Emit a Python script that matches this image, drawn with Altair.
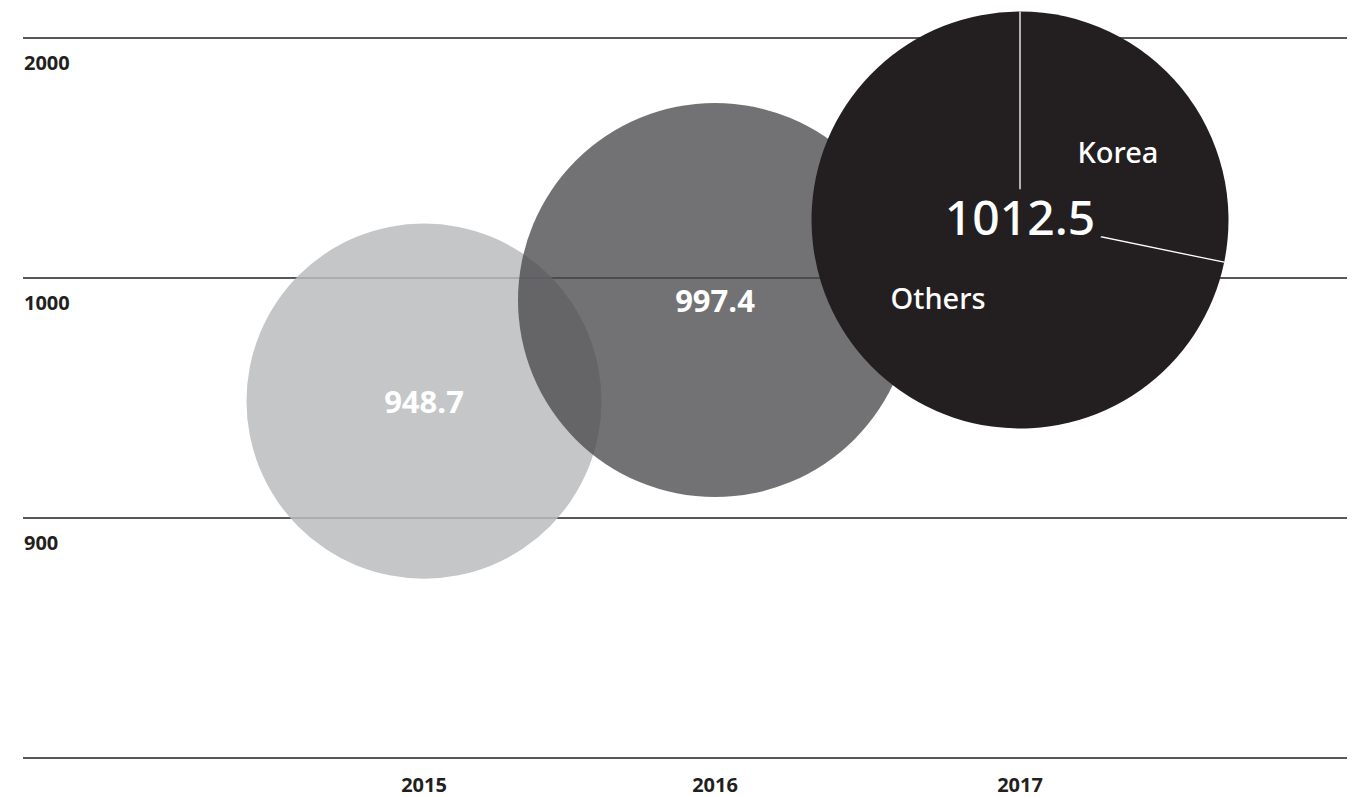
import altair as alt
import pandas as pd

# ---- data ----
years = [2015, 2016, 2017]
year_labels = ["2015", "2016", "2017"]
totals = [948.7, 997.4, 1012.5]
# vertical level of each bubble centre on the (broken) value axis
bubble_level = [948.7, 990.8, 1241.7]
y_ticks = [2000, 1000, 900, 800]
y_tick_labels = ["2000", "1000", "900", ""]
pie_labels = ["Korea", "Others"]
pie_values = [286.0, 726.5]

W, H = 1342, 789
DARK = "#231f20"

xs = alt.Scale(type="linear", domain=[2015, 2016, 2017], range=[416, 707, 1012], nice=False, zero=False)
ys = alt.Scale(type="linear", domain=[800, 900, 1000, 2000], range=[750, 510, 270, 30], nice=False, zero=False)

bubbles = pd.DataFrame({
    "year": years,
    "yl": year_labels,
    "total": totals,
    "level": bubble_level,
    "label": [str(v) for v in totals],
})
grid = pd.DataFrame({"v": y_ticks, "t": y_tick_labels})
pie = pd.DataFrame({
    "year": [years[2]] * 2,
    "level": [bubble_level[2]] * 2,
    "name": pie_labels,
    "value": pie_values,
    "ord": [0, 1],
})
tot = sum(pie_values)
sep = pd.DataFrame({
    "year": [years[2]] * 2,
    "level": [bubble_level[2]] * 2,
    "ang": [0.0, 360.0 * pie_values[0] / tot],
})

X = alt.X("year:Q", scale=xs, axis=None)
Y = alt.Y("level:Q", scale=ys, axis=None)

rules = alt.Chart(grid).mark_rule(color=DARK, strokeWidth=1.3).encode(
    y=alt.Y("v:Q", scale=ys, axis=None),
    x=alt.value(15),
    x2=alt.value(1339),
)

ylab = alt.Chart(grid).mark_text(
    align="left", baseline="alphabetic", dy=32, font="Open Sans",
    fontWeight="bold", fontSize=20, color=DARK,
).encode(y=alt.Y("v:Q", scale=ys, axis=None), x=alt.value(16), text="t:N")

xlab = alt.Chart(bubbles).mark_text(
    align="center", baseline="alphabetic", font="Open Sans",
    fontWeight="bold", fontSize=20, color=DARK,
).encode(x=X, y=alt.value(784), text="yl:N")

circles = alt.Chart(bubbles.iloc[:2]).mark_circle().encode(
    x=X, y=Y,
    size=alt.Size("total:Q", scale=alt.Scale(domain=[948.7, 997.4], range=[126025, 155236], zero=False), legend=None),
    color=alt.Color("yl:N", scale=alt.Scale(domain=["2015", "2016"], range=["#bbbcbe", "#47484c"]), legend=None),
    opacity=alt.Opacity("yl:N", scale=alt.Scale(domain=["2015", "2016"], range=[0.85, 0.77]), legend=None),
)

arcs = alt.Chart(pie).mark_arc(radius=208.5, color=DARK).encode(
    x=X, y=Y,
    theta=alt.Theta("value:Q", stack=True),
    order=alt.Order("ord:Q"),
)

seps = alt.Chart(sep).mark_point(
    shape="M0,0L0,-1", size=(2 * 208.5) ** 2, filled=False,
    stroke="white", strokeWidth=1.3, opacity=1,
).encode(x=X, y=Y, angle=alt.Angle("ang:Q", scale=None))

halo = alt.Chart(bubbles.iloc[2:]).mark_text(
    font="Noto Sans", fontWeight=500, fontSize=48, baseline="middle", dy=1.5,
    fill=DARK, stroke=DARK, strokeWidth=24, strokeJoin="round",
).encode(x=X, y=Y, text="label:N")

big = alt.Chart(bubbles.iloc[2:]).mark_text(
    font="Noto Sans", fontWeight=500, fontSize=48, baseline="middle", dy=1.5, color="white",
).encode(x=X, y=Y, text="label:N")

vals = alt.Chart(bubbles.iloc[:2]).mark_text(
    font="Open Sans", fontWeight="bold", fontSize=31, baseline="middle", dy=2.5, color="white",
).encode(x=X, y=Y, text="label:N")

pielab = alt.Chart(pie).mark_text(
    font="Noto Sans", fontWeight=500, fontSize=29, radius=116, dx=8, dy=7, color="white",
    align="center", baseline="middle",
).encode(
    x=X, y=Y,
    theta=alt.Theta("value:Q", stack=True),
    order=alt.Order("ord:Q"),
    text="name:N",
)

chart = alt.layer(
    rules, circles, arcs, seps, halo, big, vals, pielab, ylab, xlab
).properties(
    width=W, height=H, autosize="none", padding=0,
).configure_view(stroke=None)

chart.save("out.html", embed_options={"renderer": "svg", "actions": False})
